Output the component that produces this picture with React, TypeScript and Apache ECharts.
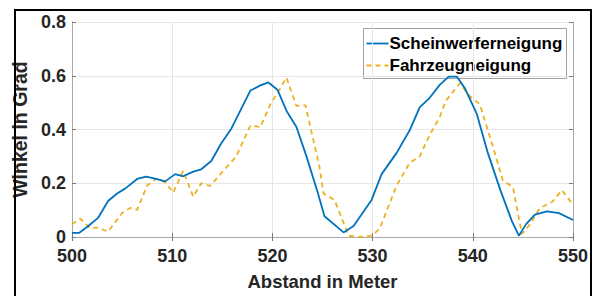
import React, { useEffect, useRef } from "react";
import * as echarts from "echarts";

const seriesNames = ["Scheinwerferneigung", "Fahrzeugneigung"];

const scheinwerferX = [
  500, 500.7, 501.6, 502.6, 503.6, 504.5, 505.3, 506.5, 507.4, 508.4, 509.3, 510.3, 511.1, 512.1,
  512.9, 513.9, 514.9, 515.9, 516.8, 517.8, 518.8, 519.6, 520.5, 521.4, 522.4, 523.4, 524.5, 525.2,
  527.1, 528.1, 529.9, 530.9, 532.4, 533.7, 534.7, 535.7, 536.7, 537.6, 538.4, 539.2, 540.4, 541.5,
  542.7, 543.9, 544.6, 545.3, 546.2, 547.4, 548.6, 550,
];
const scheinwerferY = [
  0.015, 0.015, 0.04, 0.071, 0.134, 0.162, 0.18, 0.216, 0.225, 0.216, 0.207, 0.234, 0.226, 0.243,
  0.252, 0.283, 0.349, 0.403, 0.47, 0.545, 0.564, 0.575, 0.548, 0.47, 0.409, 0.3, 0.168, 0.077,
  0.017, 0.041, 0.138, 0.234, 0.313, 0.397, 0.482, 0.518, 0.566, 0.597, 0.597, 0.554, 0.458, 0.313,
  0.18, 0.059, 0.005, 0.047, 0.083, 0.095, 0.089, 0.063,
];

const fahrzeugX = [
  500, 500.8, 501.8, 502.6, 503.6, 505.0, 505.8, 506.5, 507.5, 508.4, 509.3, 510.1, 511.1, 512.1,
  512.9, 513.8, 515.1, 516.4, 517.8, 518.8, 519.8, 520.8, 521.4, 522.4, 523.3, 524.7, 525.1, 526.2,
  527.6, 528.6, 529.9, 530.7, 532.4, 533.7, 534.7, 535.7, 536.7, 537.3, 538.7, 539.7, 540.7, 542.0,
  543.0, 544.0, 544.9, 545.7, 546.7, 547.9, 548.9, 550,
];
const fahrzeugY = [
  0.047, 0.069, 0.033, 0.035, 0.02, 0.089, 0.108, 0.101, 0.192, 0.216, 0.204, 0.165, 0.246, 0.15,
  0.2, 0.19, 0.246, 0.3, 0.415, 0.409, 0.494, 0.554, 0.593, 0.488, 0.49, 0.26, 0.162, 0.138,
  0.005, 0.0, 0.005, 0.03, 0.192, 0.276, 0.3, 0.38, 0.446, 0.506, 0.572, 0.524, 0.494, 0.337,
  0.21, 0.186, 0.011, 0.047, 0.108, 0.13, 0.174, 0.12,
];

const xTitle = "Abstand in Meter";
const yTitle = "Winkel in Grad";

const FONT = "'Liberation Sans', Arial, sans-serif";
const BOX = "#a8a8a8";
const TICK = "#7a7a7a";
const BLUE = "#0072BD";
const ORANGE = "#EDB120";

export default function App() {
  const ref = useRef<HTMLDivElement>(null);

  useEffect(() => {
    document.body.style.margin = "0";
    document.body.style.overflow = "hidden";
    if (!ref.current) return;
    const chart = echarts.init(ref.current, null, { renderer: "svg" });
    const zip = (xs: number[], ys: number[]) => xs.map((x, i) => [x, ys[i]]);

    const hiddenAxisCommon = {
      axisLabel: { show: false },
      splitLine: { show: false },
      axisLine: { show: true, lineStyle: { color: BOX, width: 1 } },
      axisTick: { show: true, inside: true, length: 4, lineStyle: { color: TICK } },
    };

    const legendText = { fontFamily: FONT, fontWeight: "bold", fontSize: 17, fill: "#000000" };

    chart.setOption({
      animation: false,
      backgroundColor: "#ffffff",
      grid: { left: 72, top: 22, width: 501, height: 221, containLabel: false },
      xAxis: [
        {
          type: "value",
          min: 500,
          max: 550,
          interval: 10,
          position: "bottom",
          name: xTitle,
          nameLocation: "middle",
          nameGap: 35,
          nameTextStyle: { fontFamily: FONT, fontWeight: "bold", fontSize: 18.5, color: "#262626" },
          axisLabel: { fontFamily: FONT, fontWeight: "bold", fontSize: 18, color: "#262626", margin: 10 },
          axisLine: { show: true, lineStyle: { color: BOX, width: 1 } },
          axisTick: { show: true, inside: true, length: 4, lineStyle: { color: TICK } },
          splitLine: { show: true, lineStyle: { color: "#e6e6e6", width: 1 } },
        },
        {
          type: "value",
          min: 500,
          max: 550,
          interval: 10,
          position: "top",
          ...hiddenAxisCommon,
        },
      ],
      yAxis: [
        {
          type: "value",
          min: 0,
          max: 0.8,
          interval: 0.2,
          position: "left",
          name: yTitle,
          nameLocation: "middle",
          nameGap: 29,
          nameRotate: 90,
          nameTextStyle: { fontFamily: FONT, fontWeight: "bold", fontSize: 19.5, color: "#262626" },
          axisLabel: {
            fontFamily: FONT,
            fontWeight: "bold",
            fontSize: 18,
            color: "#262626",
            margin: 6,
            formatter: (v: number) => (v === 0 ? "0" : v.toFixed(1)),
          },
          axisLine: { show: true, lineStyle: { color: BOX, width: 1 } },
          axisTick: { show: true, inside: true, length: 4, lineStyle: { color: TICK } },
          splitLine: { show: true, lineStyle: { color: "#e6e6e6", width: 1 } },
        },
        {
          type: "value",
          min: 0,
          max: 0.8,
          interval: 0.2,
          position: "right",
          ...hiddenAxisCommon,
        },
      ],
      series: [
        {
          name: seriesNames[0],
          type: "line",
          data: zip(scheinwerferX, scheinwerferY),
          symbol: "none",
          showSymbol: false,
          lineStyle: { color: BLUE, width: 1.8 },
          itemStyle: { color: BLUE },
          z: 3,
        },
        {
          name: seriesNames[1],
          type: "line",
          data: zip(fahrzeugX, fahrzeugY),
          symbol: "none",
          showSymbol: false,
          lineStyle: { color: ORANGE, width: 1.8, type: [5, 4] },
          itemStyle: { color: ORANGE },
          z: 2,
        },
      ],
      graphic: [
        {
          type: "rect",
          shape: { x: 14, y: 9, width: 2, height: 287 },
          style: { fill: "#000000" },
          z: 60,
        },
        {
          type: "rect",
          shape: { x: 14, y: 9, width: 578, height: 2 },
          style: { fill: "#000000" },
          z: 60,
        },
        {
          type: "rect",
          shape: { x: 590, y: 9, width: 2, height: 287 },
          style: { fill: "#000000" },
          z: 60,
        },
        {
          type: "group",
          left: 363,
          top: 28,
          z: 50,
          children: [
            {
              type: "rect",
              shape: { x: 0, y: 0, width: 203, height: 50 },
              style: { fill: "#ffffff", stroke: "#a0a0a0", lineWidth: 1 },
            },
            {
              type: "line",
              shape: { x1: 3, y1: 15, x2: 25, y2: 15 },
              style: { stroke: BLUE, lineWidth: 1.8 },
            },
            {
              type: "text",
              x: 26,
              y: 15,
              style: { ...legendText, text: seriesNames[0], verticalAlign: "middle", align: "left" },
            },
            {
              type: "line",
              shape: { x1: 3, y1: 37, x2: 25, y2: 37 },
              style: { stroke: ORANGE, lineWidth: 1.8, lineDash: [5, 4] },
            },
            {
              type: "text",
              x: 26,
              y: 37,
              style: { ...legendText, text: seriesNames[1], verticalAlign: "middle", align: "left" },
            },
          ],
        },
      ],
    });

    return () => chart.dispose();
  }, []);

  return (
    <div style={{ position: "relative", width: 594, height: 296, overflow: "hidden", background: "#fff" }}>
      <div ref={ref} style={{ position: "absolute", left: 0, top: 0, width: 594, height: 296 }} />
    </div>
  );
}
